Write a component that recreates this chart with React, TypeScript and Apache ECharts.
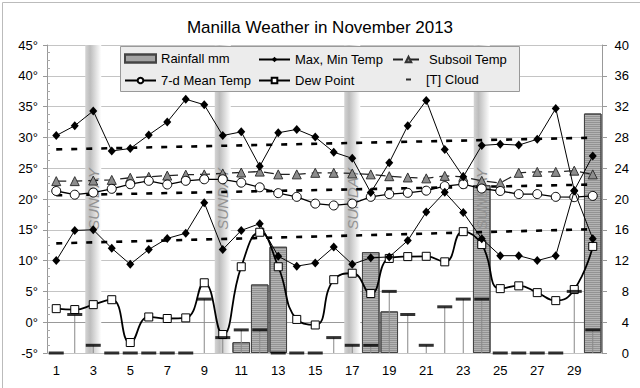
import React, { useEffect, useRef } from 'react';
import * as echarts from 'echarts';

const days = ['1','2','3','4','5','6','7','8','9','10','11','12','13','14','15','16','17','18','19','20','21','22','23','24','25','26','27','28','29','30'];
const sundays = ['3', '10', '17', '24'];

const rainfall = [null, null, null, null, null, null, null, null, null, null, 1.4, 8.9, 13.8, null, null, null, null, 13.1, 5.4, null, null, null, null, 21.8, null, null, null, null, null, 31.1];
const maxTemp = [30.3, 31.9, 34.3, 27.8, 28.2, 30.4, 32.5, 36.2, 35.3, 30.3, 30.9, 25.3, 30.75, 31.3, 30.05, 27.6, 26.6, 21.05, 25.9, 31.9, 36.0, 28.05, 23.6, 28.7, 28.9, 28.75, 29.7, 34.7, 21.4, 27.0];
const minTemp = [10.0, 14.9, 15.0, 12.0, 9.4, 11.8, 13.6, 14.45, 19.4, 11.8, 14.9, 16.0, 10.7, 9.1, 9.6, 12.2, 9.4, 10.45, 10.6, 13.25, 17.9, 21.1, 17.8, 13.55, 10.8, 10.8, 10.0, 10.8, 21.3, 13.55];
const subsoilTemp = [22.9, 22.9, 23.0, 23.1, 23.45, 23.6, 23.8, 23.95, 24.0, 24.15, 24.3, 24.45, 24.0, 24.0, 24.25, 24.25, 24.15, 24.0, 23.7, 23.5, 23.35, 23.75, 23.6, 22.95, 22.6, 24.25, 24.4, 24.4, 24.6, 24.0];
const meanTemp7d = [21.3, 20.7, 21.05, 21.65, 22.4, 22.95, 22.35, 22.95, 23.2, 23.2, 22.65, 21.9, 20.95, 20.35, 19.25, 18.95, 19.25, 20.35, 20.8, 21.0, 21.35, 22.1, 22.4, 21.7, 21.3, 20.8, 20.8, 20.35, 20.3, 20.5];
const dewPoint = [2.2, 2.05, 2.85, 3.65, -3.3, 0.85, 0.6, 0.7, 6.4, -2.0, 9.0, 14.6, 9.0, 0.45, -0.45, 6.9, 7.95, 4.65, 10.35, 10.65, 10.7, 9.8, 14.7, 12.6, 5.45, 5.9, 4.8, 3.5, 5.3, 12.3];
const cloud = [0, 5, 1, 0, 0, 0, 0, 0, 7, 2, 3, 3, 0, 0, 0, 2, 1, 1, 8, 5, 1, 6, 7, 7, 0, 0, 0, 0, 8, 3];
// normal (trend) lines: start (day 1) and end (day 30) values
const maxNormal = [28.05, 29.95];
const meanNormal = [20.6, 22.35];
const minNormal = [12.8, 15.1];

const leftMin = -5, leftMax = 45, leftStep = 5;
const rightMin = 0, rightMax = 40, rightStep = 4;

const FONT = '"Liberation Sans", Arial, sans-serif';

function normalLine(ends: number[]) {
  return {
    type: 'line', xAxisIndex: 0, yAxisIndex: 0, z: 5, silent: true,
    symbol: 'none',
    data: [[days[0], ends[0]], [days[days.length - 1], ends[1]]],
    lineStyle: { color: '#000', width: 2.6, type: [6, 9] },
  };
}

function legendItem(name: string, left: number, top: number, extra: any = {}) {
  return {
    data: [name], left, top, orient: 'horizontal', padding: 0, itemGap: 0,
    selectedMode: false, z: 20,
    itemWidth: 31, itemHeight: 7,
    textStyle: { fontSize: 13, color: '#000', fontFamily: FONT },
    ...extra,
  };
}

export default function App() {
  const ref = useRef<HTMLDivElement>(null);
  useEffect(() => {
    const chart = echarts.init(ref.current!, null, { renderer: 'svg' });
    const sundayBand = days.map((d) => (sundays.includes(d) ? rightMax : null));
    const option: any = {
      animation: false,
      backgroundColor: '#fff',
      textStyle: { fontFamily: FONT },
      title: {
        text: 'Manilla Weather in November 2013', left: 'center', top: 14,
        textStyle: { fontSize: 17, fontWeight: 'normal', color: '#000', fontFamily: FONT },
      },
      graphic: [
        { type: 'rect', z: 0, silent: true, shape: { x: 2.5, y: 2.5, width: 700, height: 500 }, style: { fill: 'none', stroke: '#bbb', lineWidth: 1 } },
        { type: 'rect', z: 15, silent: true, shape: { x: 120.5, y: 46.5, width: 399, height: 45 }, style: { fill: '#ececec', stroke: '#999', lineWidth: 1 } },
      ],
      legend: [
        legendItem('Rainfall mm', 124, 52, { icon: 'rect', itemHeight: 8 }),
        legendItem('Max, Min Temp', 258, 53),
        legendItem('Subsoil Temp', 392, 53),
        legendItem('7-d Mean Temp', 124, 74),
        legendItem('Dew Point', 258, 74),
        legendItem('[T] Cloud', 406, 73, { icon: 'rect', itemWidth: 5, itemHeight: 2, textStyle: { fontSize: 13, color: '#000', fontFamily: FONT, padding: [0, 0, 0, 10] } }),
      ],
      grid: { left: 47, right: 38, top: 45, bottom: 35 },
      xAxis: [
        {
          type: 'category', data: days, boundaryGap: true,
          axisLine: { lineStyle: { color: '#999' } },
          axisTick: { show: false },
          axisLabel: { interval: 1, fontSize: 13, color: '#000', margin: 11 },
          splitLine: { show: false },
        },
        { type: 'category', data: days, show: false },
        { type: 'category', data: days, show: false },
      ],
      yAxis: [
        {
          type: 'value', position: 'left', min: leftMin, max: leftMax, interval: leftStep,
          axisLine: { show: true, lineStyle: { color: '#999' } },
          axisTick: { show: true, length: 4, lineStyle: { color: '#999' } },
          axisLabel: { fontSize: 13, color: '#000', margin: 9, formatter: (v: number) => v + '°' },
          splitLine: { show: true, lineStyle: { color: '#c4c4c4', width: 1 } },
        },
        {
          type: 'value', position: 'right', min: rightMin, max: rightMax, interval: rightStep,
          axisLine: { show: true, lineStyle: { color: '#999' } },
          axisTick: { show: true, length: 5, lineStyle: { color: '#999' } },
          axisLabel: { fontSize: 13, color: '#000', margin: 27, align: 'right' },
          splitLine: { show: false },
        },
        {
          type: 'value', position: 'left', min: leftMin, max: leftMax, interval: leftStep,
          axisLine: { show: false }, axisLabel: { show: false }, splitLine: { show: false },
          axisTick: { show: false, inside: true },
          minorTick: { show: true, splitNumber: 4, length: 3, lineStyle: { color: '#aaa' } },
        },
      ],
      series: [
        {
          name: 'sundayBand', type: 'bar', xAxisIndex: 1, yAxisIndex: 1, z: 1, silent: true,
          data: sundayBand, barWidth: 16, barGap: '-100%',
          itemStyle: {
            color: { type: 'linear', x: 0, y: 0, x2: 1, y2: 0, colorStops: [
              { offset: 0, color: '#d4d4d4' }, { offset: 0.3, color: '#bdbdbd' }, { offset: 1, color: '#ffffff' },
            ] },
          },
        },
        {
          name: 'sundayText', type: 'bar', xAxisIndex: 1, yAxisIndex: 1, z: 3, silent: true,
          data: sundayBand, barWidth: 16, barGap: '-100%',
          itemStyle: { color: 'rgba(0,0,0,0)' },
          label: { show: true, position: 'inside', rotate: 90, formatter: 'SUNDAY', fontSize: 15, fontStyle: 'italic', color: '#929292', fontFamily: FONT },
        },
        {
          name: 'Rainfall mm', type: 'bar', xAxisIndex: 0, yAxisIndex: 1, z: 2,
          data: rainfall, barCategoryGap: '5%',
          itemStyle: {
            color: '#b4b4b4', borderColor: '#444', borderWidth: 1,
            decal: { symbol: 'rect', symbolSize: 1, dashArrayX: [1, 0], dashArrayY: [1, 1], rotation: 0, color: 'rgba(70,70,70,0.3)' },
          },
        },
        {
          name: 'cloudStem', type: 'bar', xAxisIndex: 2, yAxisIndex: 1, z: 4, silent: true,
          data: cloud, barWidth: 1, itemStyle: { color: '#888' },
        },
        normalLine(maxNormal),
        normalLine(meanNormal),
        normalLine(minNormal),
        {
          name: 'Subsoil Temp', type: 'line', xAxisIndex: 0, yAxisIndex: 0, z: 6,
          data: subsoilTemp, symbol: 'triangle', symbolSize: 9,
          itemStyle: { color: '#8c8c8c', borderColor: '#333', borderWidth: 1 },
          lineStyle: { color: '#222', width: 1.3, type: [10, 6] },
        },
        {
          name: '7-d Mean Temp', type: 'line', xAxisIndex: 0, yAxisIndex: 0, z: 7,
          data: meanTemp7d, symbol: 'circle', symbolSize: 9,
          itemStyle: { color: '#fff', borderColor: '#000', borderWidth: 1 },
          lineStyle: { color: '#000', width: 1.3 },
        },
        {
          name: 'Dew Point', type: 'line', xAxisIndex: 0, yAxisIndex: 0, z: 7,
          data: dewPoint, symbol: 'rect', symbolSize: 8, smooth: 0.5,
          itemStyle: { color: '#fff', borderColor: '#000', borderWidth: 1 },
          lineStyle: { color: '#000', width: 1.8 },
        },
        {
          name: 'Max, Min Temp', type: 'line', xAxisIndex: 0, yAxisIndex: 0, z: 8,
          data: maxTemp, symbol: 'diamond', symbolSize: [8, 9],
          itemStyle: { color: '#000' }, lineStyle: { color: '#000', width: 1 },
        },
        {
          name: 'Max, Min Temp', type: 'line', xAxisIndex: 0, yAxisIndex: 0, z: 8,
          data: minTemp, symbol: 'diamond', symbolSize: [8, 9],
          itemStyle: { color: '#000' }, lineStyle: { color: '#000', width: 1 },
        },
        {
          name: '[T] Cloud', type: 'scatter', xAxisIndex: 0, yAxisIndex: 1, z: 9,
          data: cloud, symbol: 'rect', symbolSize: [15, 3],
          itemStyle: { color: '#000' },
        },
      ],
    };
    chart.setOption(option);
    return () => chart.dispose();
  }, []);
  return <div ref={ref} style={{ position: 'fixed', left: 0, top: 0, width: 640, height: 388 }} />;
}
